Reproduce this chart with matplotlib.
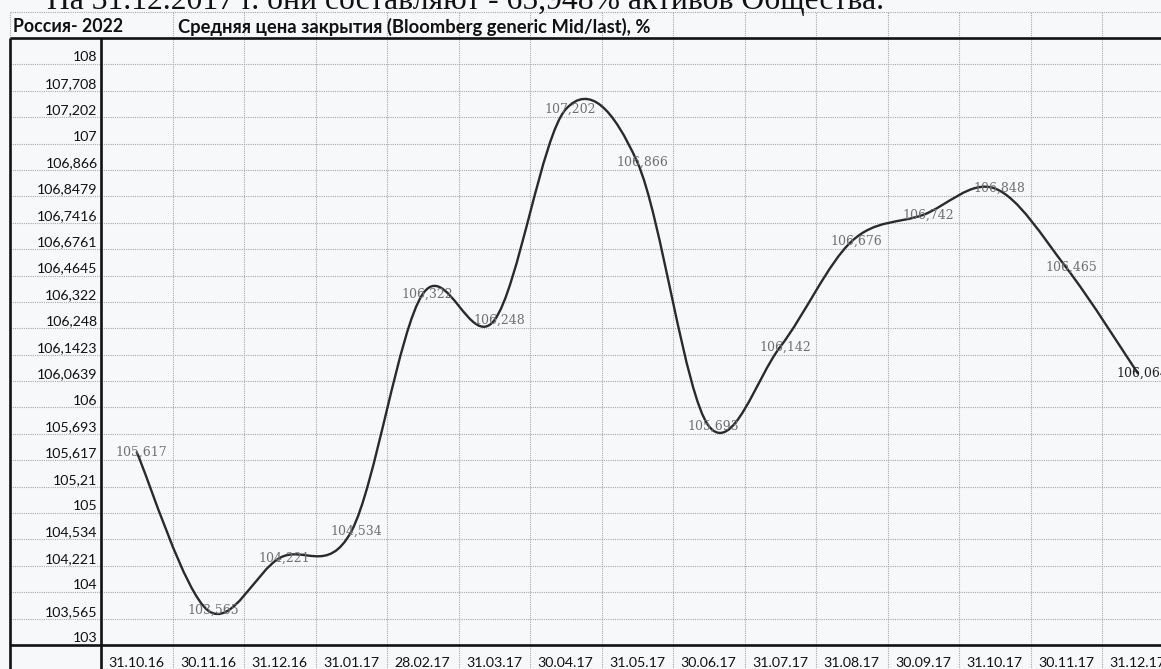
import matplotlib
matplotlib.use('Agg')
import matplotlib.pyplot as plt
from matplotlib.path import Path
from matplotlib.patches import PathPatch
from matplotlib.lines import Line2D
import numpy as np

# ---------------- data ----------------
dates = ['31.10.16', '30.11.16', '31.12.16', '31.01.17', '28.02.17', '31.03.17',
         '30.04.17', '31.05.17', '30.06.17', '31.07.17', '31.08.17', '30.09.17',
         '31.10.17', '30.11.17', '31.12.17']
prices = [105.617, 103.565, 104.221, 104.534, 106.322, 106.248, 107.202, 106.866,
          105.693, 106.142, 106.676, 106.742, 106.848, 106.465, 106.064]
# y-axis category labels, top to bottom (axis is ordinal, evenly spaced rows)
y_labels = ['108', '107,708', '107,202', '107', '106,866', '106,8479', '106,7416',
            '106,6761', '106,4645', '106,322', '106,248', '106,1423', '106,0639',
            '106', '105,693', '105,617', '105,21', '105', '104,534', '104,221',
            '104', '103,565', '103']
header_left = 'Россия- 2022'
header_title = 'Средняя цена закрытия (Bloomberg generic Mid/last), %'
top_text = 'На 31.12.2017 г. они составляют - 65,948% активов Общества.'

# ---------------- layout ----------------
W, H = 1161, 669
BG = '#f7f8fa'
GRID = '#a9a9a9'
fig = plt.figure(figsize=(W / 100, H / 100), dpi=100, facecolor=BG)


def fx(px):
    return px / W


def fy(py):
    return 1 - py / H


AX_L, AX_R, AX_T, AX_B = 101, 1173.5, 38, 645
ax = fig.add_axes([fx(AX_L), fy(AX_B), fx(AX_R) - fx(AX_L), fy(AX_T) - fy(AX_B)])
ax.set_facecolor(BG)
n_rows = len(y_labels)
ax.set_xlim(-0.5, len(dates) - 0.5)
ax.set_ylim(-0.3, n_rows - 1 + 0.7)
for s in ax.spines.values():
    s.set_visible(False)

# ordinal mapping value -> row index (from bottom)
levels = np.array([float(l.replace(',', '.')) for l in y_labels])
row_pos = {i: n_rows - 1 - i for i in range(n_rows)}
ys = [row_pos[int(np.argmin(np.abs(levels - v)))] for v in prices]
xs = list(range(len(dates)))

# ticks
ax.set_yticks([row_pos[i] for i in range(n_rows)])
ax.set_yticklabels(y_labels, family='Lato', fontsize=10.2, color='#111111')
ax.set_xticks(xs)
ax.set_xticklabels(dates, family='Lato', fontsize=10.2, color='#111111')
ax.tick_params(axis='y', length=0, pad=2.5)
ax.tick_params(axis='x', length=0, pad=8.5)

# grid (dotted, extending into the label column / header)
ppx = AX_R - AX_L
ppy = AX_B - AX_T
left_frac = (9.5 - AX_L) / ppx
for k in range(1, n_rows):
    ax.axhline(k - 0.3, xmin=left_frac, xmax=1, clip_on=False, color=GRID,
               lw=0.8, ls=(0, (1, 1)), zorder=1)
for i in range(1, len(dates) + 1):
    ax.axvline(i - 0.5, ymin=-(H - AX_B) / ppy, ymax=1 + (AX_T - 12) / ppy,
               clip_on=False, color=GRID, lw=0.8, ls=(0, (1, 1)), zorder=1)

# frame lines in figure coords
def fline(x0, y0, x1, y1, **kw):
    fig.add_artist(Line2D([fx(x0), fx(x1)], [fy(y0), fy(y1)], **kw))

thick = dict(color='#111111', lw=1.9, solid_capstyle='butt')
dot = dict(color=GRID, lw=0.8, ls=(0, (1, 1)))
fline(9.5, 12, W, 12, **dot)
fline(9.5, 12, 9.5, AX_T, **dot)
fline(9.5, AX_T, W, AX_T, **thick)
fline(9.5, AX_B, W, AX_B, **thick)
fline(AX_L, AX_T, AX_L, H, **thick)
fline(9.5, AX_T, 9.5, H, **thick)

# headers
fig.text(fx(13), fy(27), header_left, family='Lato', fontweight='bold',
         fontsize=12.8, va='center', ha='left', color='#111111')
fig.text(fx(178), fy(27), header_title, family='Lato', fontweight='bold',
         fontsize=13.2, va='center', ha='left', color='#111111')

# top (cut-off) sentence: fit it to its width in the scan
t = fig.text(fx(47), fy(9.5), top_text, family='Liberation Serif', fontsize=22,
             va='baseline', ha='left', color='#111111')
fig.canvas.draw()
wpx = t.get_window_extent().width
t.set_fontsize(22 * (880 - 47) / wpx)

# smoothed line (Excel-like cubic Bezier through every point)
P = np.column_stack([xs, ys]).astype(float)
verts = [tuple(P[0])]
codes = [Path.MOVETO]
n = len(P)
for i in range(n - 1):
    p0 = P[i - 1] if i > 0 else P[i]
    p1 = P[i]
    p2 = P[i + 1]
    p3 = P[i + 2] if i + 2 < n else P[i + 1]
    c1 = p1 + (p2 - p0) / 6.0
    c2 = p2 - (p3 - p1) / 6.0
    verts += [tuple(c1), tuple(c2), tuple(p2)]
    codes += [Path.CURVE4] * 3
ax.add_patch(PathPatch(Path(verts, codes), fill=False, lw=1.7, ec='#2a2a2a',
                       zorder=3, capstyle='round'))

# data labels
for i, (x, y, v) in enumerate(zip(xs, ys, prices)):
    txt = f'{v:.3f}'.replace('.', ',')
    col = '#222222' if i == n - 1 else '#707070'
    ax.annotate(txt, (x, y), xytext=(3.5, 0), textcoords='offset points',
                ha='center', va='center', fontsize=9, family='DejaVu Serif',
                color=col, zorder=4, annotation_clip=False)

fig.savefig('out.png', dpi=100, facecolor=BG)
